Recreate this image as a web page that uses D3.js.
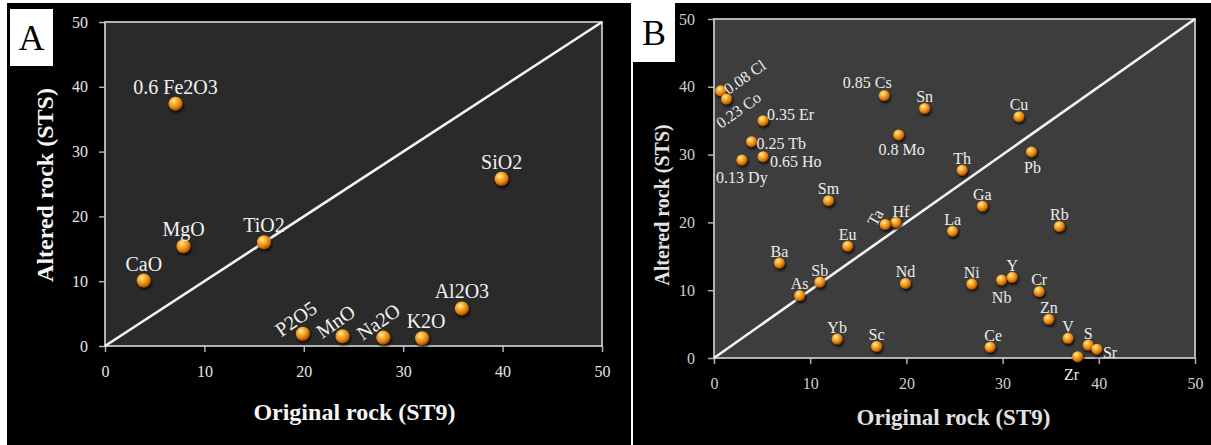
<!DOCTYPE html>
<html>
<head>
<meta charset="utf-8">
<script src="https://cdn.jsdelivr.net/npm/d3@7"></script>
<style>
  body { margin: 0; background: #fff; }
  svg { display: block; }
</style>
</head>
<body>
<svg id="chart" width="1211" height="445"></svg>
<script>
// Panel A - major oxides
const oxideNames = ["0.6 Fe2O3", "CaO", "MgO", "TiO2", "SiO2", "P2O5", "MnO", "Na2O", "K2O", "Al2O3"];
const oxideOriginal = [7.1, 3.9, 7.9, 16.0, 39.9, 19.9, 23.9, 28.0, 31.9, 35.9];
const oxideAltered = [37.4, 10.1, 15.4, 16.0, 25.8, 1.9, 1.5, 1.3, 1.2, 5.8];

// Panel B - trace elements
const traceNames = ["0.08 Cl", "0.23 Co", "0.35 Er", "0.25 Tb", "0.65 Ho", "0.13 Dy", "0.85 Cs", "0.8 Mo",
  "Sn", "Cu", "Pb", "Th", "Ga", "Rb", "La", "Hf", "Ta", "Sm", "Eu", "Ba", "Sb", "As", "Nd", "Ni",
  "Nb", "Y", "Cr", "Zn", "V", "S", "Sr", "Zr", "Ce", "Yb", "Sc"];
const traceOriginal = [0.7, 1.3, 5.1, 3.9, 5.1, 2.9, 17.7, 19.2,
  21.9, 31.7, 33.0, 25.8, 27.9, 35.9, 24.8, 18.9, 17.8, 11.9, 13.9, 6.8, 11.0, 8.9, 19.9, 26.8,
  29.9, 31.0, 33.8, 34.8, 36.8, 38.9, 39.8, 37.8, 28.7, 12.8, 16.9];
const traceAltered = [39.4, 38.2, 35.0, 31.9, 29.7, 29.2, 38.7, 32.9,
  36.8, 35.6, 30.4, 27.7, 22.4, 19.4, 18.7, 20.0, 19.7, 23.2, 16.5, 14.0, 11.2, 9.2, 11.0, 10.9,
  11.5, 11.9, 9.8, 5.7, 2.9, 1.9, 1.3, 0.2, 1.6, 2.8, 1.7];

const axisTicks = [0, 10, 20, 30, 40, 50];

// label placement (dx, dy, anchor, rotation) - anything not listed sits above its point
const oxidePlacement = {
  "P2O5": [-7, -15, "middle", -35],
  "MnO": [-7, -15, "middle", -35],
  "Na2O": [-5, -16, "middle", -35],
  "K2O": [4, -17, "middle", 0]
};
const tracePlacement = {
  "0.08 Cl": [24, -14, "middle", -35],
  "0.23 Co": [12, 11, "middle", -35],
  "0.35 Er": [4, -6, "start", 0],
  "0.25 Tb": [5, 2, "start", 0],
  "0.65 Ho": [7, 5, "start", 0],
  "0.13 Dy": [0, 17, "middle", 0],
  "0.85 Cs": [-17, -13, "middle", 0],
  "0.8 Mo": [3, 15, "middle", 0],
  "Pb": [1, 16, "middle", 0],
  "Nb": [0, 17, "middle", 0],
  "Zr": [-6, 18, "middle", 0],
  "Sr": [6, 3, "start", 0],
  "Ta": [-10, -7, "middle", -60],
  "Ce": [3, -12, "middle", 0],
  "Hf": [5, -11, "middle", 0]
};

const svg = d3.select("#chart");
const serif = "'Liberation Serif', 'Times New Roman', serif";

// shared defs: shiny orange ball + soft shadow
const defs = svg.append("defs");
const grad = defs.append("radialGradient").attr("id", "ball")
  .attr("cx", "38%").attr("cy", "32%").attr("r", "68%");
grad.append("stop").attr("offset", "0%").attr("stop-color", "#fff1b5");
grad.append("stop").attr("offset", "28%").attr("stop-color", "#ffbe45");
grad.append("stop").attr("offset", "72%").attr("stop-color", "#e47d0c");
grad.append("stop").attr("offset", "100%").attr("stop-color", "#9c4c00");
defs.append("filter").attr("id", "shadow").attr("x", "-50%").attr("y", "-50%")
  .attr("width", "200%").attr("height", "200%")
  .append("feDropShadow").attr("dx", 1).attr("dy", 2).attr("stdDeviation", 1.5)
  .attr("flood-color", "#000").attr("flood-opacity", 0.9);

// black panel backgrounds
svg.append("rect").attr("x", 7).attr("y", 3).attr("width", 624).attr("height", 442).attr("fill", "#000");
svg.append("rect").attr("x", 633).attr("y", 3).attr("width", 578).attr("height", 442).attr("fill", "#000");

function drawPanel(p) {
  const g = svg.append("g");
  const x = d3.scaleLinear().domain([0, 50]).range([p.left, p.right]);
  const y = d3.scaleLinear().domain([0, 50]).range([p.bottom, p.top]);

  // plot area
  g.append("rect")
    .attr("x", p.left).attr("y", p.top)
    .attr("width", p.right - p.left).attr("height", p.bottom - p.top)
    .attr("fill", p.plotFill);

  // axes
  const xAxis = g.append("g")
    .attr("transform", `translate(0,${p.bottom})`)
    .call(d3.axisBottom(x).tickValues(axisTicks).tickSize(6).tickPadding(14));
  const yAxis = g.append("g")
    .attr("transform", `translate(${p.left},0)`)
    .call(d3.axisLeft(y).tickValues(axisTicks).tickSize(6).tickPadding(p.yPad));
  [xAxis, yAxis].forEach(a => {
    a.select(".domain").remove();
    a.selectAll("line").attr("stroke", "#b0b0b0").attr("stroke-width", 1.5);
    a.selectAll("text")
      .style("font-family", serif)
      .style("font-size", p.tickSize + "px")
      .attr("fill", p.tickColor);
  });

  // frame
  g.append("rect")
    .attr("x", p.left).attr("y", p.top)
    .attr("width", p.right - p.left).attr("height", p.bottom - p.top)
    .attr("fill", "none").attr("stroke", "#c4c4c4").attr("stroke-width", 1.8);

  // 1:1 line
  g.append("line")
    .attr("x1", x(0)).attr("y1", y(0))
    .attr("x2", x(50)).attr("y2", y(50))
    .attr("stroke", "#f4f4f4").attr("stroke-width", 2.6);

  const pts = p.names.map((n, i) => ({ name: n, ox: p.xs[i], oy: p.ys[i] }));

  // points
  g.selectAll(".dot")
    .data(pts)
    .enter().append("circle")
    .attr("class", "dot")
    .attr("cx", d => x(d.ox))
    .attr("cy", d => y(d.oy))
    .attr("r", p.r)
    .attr("fill", "url(#ball)")
    .attr("filter", "url(#shadow)");

  // data labels
  g.selectAll(".lbl")
    .data(pts)
    .enter().append("text")
    .attr("class", "lbl")
    .each(function(d) {
      const pl = p.placement[d.name] || [0, p.above, "middle", 0];
      const tx = x(d.ox) + pl[0], ty = y(d.oy) + pl[1];
      d3.select(this)
        .attr("transform", `translate(${tx},${ty}) rotate(${pl[3]})`)
        .attr("text-anchor", pl[2]);
    })
    .attr("dominant-baseline", "central")
    .style("font-family", serif)
    .style("font-size", p.labelSize + "px")
    .attr("fill", p.labelColor)
    .text(d => d.name);

  // axis titles
  g.append("text")
    .attr("x", (p.left + p.right) / 2 + p.xTitleShift).attr("y", p.xTitleY)
    .attr("text-anchor", "middle")
    .style("font-family", serif).style("font-weight", "bold")
    .style("font-size", p.titleSize + "px")
    .attr("fill", p.titleColor)
    .text("Original rock (ST9)");
  g.append("text")
    .attr("transform", `translate(${p.yTitleX},${p.yTitleY}) rotate(-90)`)
    .attr("text-anchor", "middle")
    .style("font-family", serif).style("font-weight", "bold")
    .style("font-size", p.yTitleSize + "px")
    .attr("fill", p.titleColor)
    .text("Altered rock (STS)");

  // panel letter box
  g.append("rect")
    .attr("x", p.box[0]).attr("y", p.box[1])
    .attr("width", p.box[2]).attr("height", p.box[3])
    .attr("fill", "#fff");
  g.append("text")
    .attr("x", p.box[0] + p.box[2] / 2).attr("y", p.box[1] + p.box[3] / 2 + 12)
    .attr("text-anchor", "middle")
    .style("font-family", serif).style("font-size", "36px")
    .attr("fill", "#000")
    .text(p.letter);
}

drawPanel({
  letter: "A", box: [10, 9, 43, 57],
  left: 105, right: 602, top: 22, bottom: 346,
  plotFill: "#2a2a2a",
  names: oxideNames, xs: oxideOriginal, ys: oxideAltered,
  placement: oxidePlacement, above: -17,
  r: 7, labelSize: 20, labelColor: "#f2f2f2",
  tickSize: 16, tickColor: "#e6e6e6", yPad: 11,
  titleSize: 24, yTitleSize: 24, titleColor: "#f5f5f5",
  xTitleY: 420, xTitleShift: 1, yTitleX: 53, yTitleY: 185
});

drawPanel({
  letter: "B", box: [633, 3, 42, 59],
  left: 714, right: 1195, top: 19, bottom: 358,
  plotFill: "#3d3d3d",
  names: traceNames, xs: traceOriginal, ys: traceAltered,
  placement: tracePlacement, above: -12,
  r: 5.5, labelSize: 16, labelColor: "#ececec",
  tickSize: 16, tickColor: "#cfcfcf", yPad: 13,
  titleSize: 23, yTitleSize: 20, titleColor: "#e2e2e2",
  xTitleY: 425, xTitleShift: -1, yTitleX: 669, yTitleY: 205
});
</script>
</body>
</html>
